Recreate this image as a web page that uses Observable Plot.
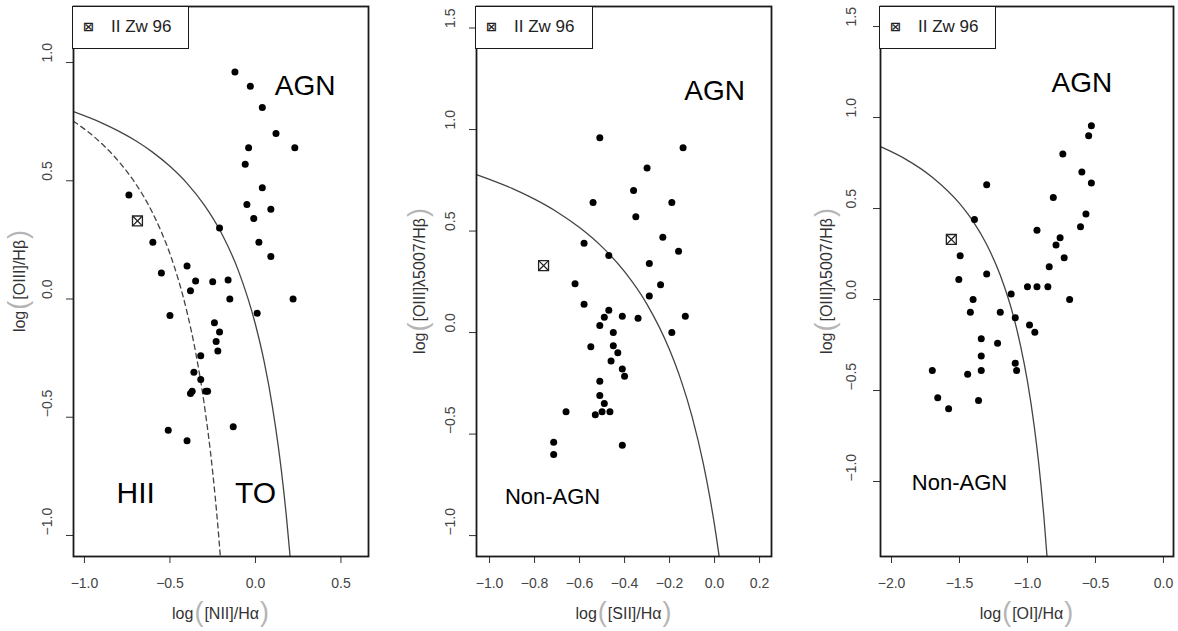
<!DOCTYPE html>
<html><head><meta charset="utf-8">
<script src="https://cdn.jsdelivr.net/npm/d3@7"></script>
<script src="https://cdn.jsdelivr.net/npm/@observablehq/plot@0.6"></script>
<style>
body{margin:0;background:#fff;}
#wrap{position:relative;width:1178px;height:631px;overflow:hidden;}
.panel{position:absolute;top:0;}
.legend{position:absolute;top:6px;height:43px;border:1.6px solid #1a1a1a;box-sizing:border-box;background:#fff;font-family:"Liberation Sans",Arial,sans-serif;font-size:17px;color:#222;}
.legend .sym{position:absolute;left:10px;top:10px;font-family:"DejaVu Sans",sans-serif;font-size:13px;line-height:20px;font-weight:bold;}
.legend .lab{position:absolute;left:38px;top:10px;line-height:20px;}
</style>
</head><body>
<div id="wrap"></div>
<script>
// ---------- data: panel 1, [NII]/Ha ----------
const nii_x = [-0.12,-0.03,0.04,0.12,-0.04,0.23,-0.06,0.04,-0.74,-0.05,0.09,-0.01,-0.21,-0.60,0.02,0.09,-0.40,-0.55,-0.35,-0.25,-0.16,-0.38,-0.15,0.22,-0.50,0.01,-0.24,-0.21,-0.23,-0.22,-0.32,-0.36,-0.32,-0.38,-0.37,-0.29,-0.28,-0.51,-0.13,-0.40];
const nii_y = [0.96,0.90,0.81,0.70,0.64,0.64,0.57,0.47,0.44,0.40,0.38,0.34,0.30,0.24,0.24,0.18,0.14,0.11,0.076,0.073,0.08,0.035,0.0,0.0,-0.07,-0.06,-0.10,-0.14,-0.18,-0.22,-0.24,-0.31,-0.34,-0.40,-0.39,-0.39,-0.39,-0.555,-0.54,-0.60];
// ---------- data: panel 2, [SII]/Ha ----------
const sii_x = [-0.51,-0.14,-0.30,-0.36,-0.54,-0.19,-0.35,-0.23,-0.58,-0.16,-0.47,-0.29,-0.62,-0.24,-0.29,-0.58,-0.47,-0.49,-0.41,-0.34,-0.13,-0.51,-0.45,-0.19,-0.55,-0.45,-0.43,-0.46,-0.41,-0.40,-0.51,-0.51,-0.49,-0.66,-0.53,-0.50,-0.465,-0.715,-0.715,-0.41];
const sii_y = [0.96,0.91,0.81,0.70,0.64,0.64,0.57,0.47,0.44,0.40,0.38,0.34,0.24,0.235,0.18,0.14,0.11,0.075,0.08,0.07,0.08,0.035,0.0,0.0,-0.07,-0.065,-0.10,-0.14,-0.18,-0.215,-0.24,-0.31,-0.35,-0.39,-0.405,-0.39,-0.39,-0.54,-0.60,-0.555];
// ---------- data: panel 3, [OI]/Ha ----------
const oi_x = [-0.53,-0.55,-0.74,-0.60,-0.53,-1.30,-0.81,-0.57,-1.39,-0.61,-0.93,-0.76,-0.79,-1.495,-0.73,-0.84,-1.30,-1.505,-1.0,-0.93,-0.85,-1.12,-1.40,-0.69,-1.42,-1.20,-1.09,-0.985,-0.946,-1.34,-1.22,-1.34,-1.09,-1.08,-1.70,-1.44,-1.34,-1.66,-1.36,-1.58];
const oi_y = [0.955,0.90,0.80,0.70,0.64,0.63,0.56,0.47,0.44,0.40,0.38,0.34,0.30,0.24,0.23,0.18,0.14,0.11,0.07,0.07,0.07,0.03,0.0,0.0,-0.07,-0.07,-0.10,-0.14,-0.18,-0.216,-0.24,-0.31,-0.35,-0.39,-0.39,-0.41,-0.39,-0.54,-0.555,-0.60];
// ---------- II Zw 96 (one per panel) ----------
const izw_x = [-0.69, -0.76, -1.56];
const izw_y = [0.33, 0.33, 0.33];
// ---------- demarcation curves ----------
const kew_nii_x = [-1.064,-0.9,-0.8,-0.7,-0.6,-0.5,-0.4,-0.3,-0.2,-0.1,0.0,0.05,0.1,0.15,0.18,0.2,0.202];
const kew_nii_y = [0.792,0.745,0.710,0.669,0.620,0.561,0.489,0.398,0.280,0.120,-0.108,-0.262,-0.459,-0.716,-0.913,-1.069,-1.086];
const kau_nii_x = [-1.064,-0.9,-0.8,-0.7,-0.6,-0.5,-0.45,-0.4,-0.35,-0.3,-0.25,-0.22,-0.205];
const kau_nii_y = [0.752,0.658,0.582,0.487,0.362,0.191,0.080,-0.056,-0.225,-0.443,-0.733,-0.959,-1.092];
const kew_sii_x = [-1.058,-0.9,-0.8,-0.7,-0.6,-0.5,-0.4,-0.3,-0.2,-0.15,-0.1,-0.05,-0.02,0.0,0.018,0.02];
const kew_sii_y = [0.778,0.710,0.657,0.594,0.517,0.422,0.300,0.139,-0.085,-0.232,-0.414,-0.646,-0.818,-0.950,-1.084,-1.100];
const kew_oi_x = [-2.081,-1.9,-1.7,-1.5,-1.4,-1.3,-1.2,-1.1,-1.05,-1.0,-0.95,-0.92,-0.9,-0.88,-0.856];
const kew_oi_y = [0.840,0.773,0.672,0.528,0.429,0.302,0.133,-0.101,-0.257,-0.450,-0.698,-0.882,-1.025,-1.187,-1.414];
// ---------- ticks ----------
const nii_xticks = [-1.0,-0.5,0.0,0.5];
const nii_yticks = [-1.0,-0.5,0.0,0.5,1.0];
const sii_xticks = [-1.0,-0.8,-0.6,-0.4,-0.2,0.0,0.2];
const sii_yticks = [-1.0,-0.5,0.0,0.5,1.0,1.5];
const oi_xticks = [-2.0,-1.5,-1.0,-0.5,0.0];
const oi_yticks = [-1.0,-0.5,0.0,0.5,1.0,1.5];
// ---------- region labels ----------
const nii_regions = [{text:"AGN",x:0.29,y:0.90},{text:"HII",x:-0.70,y:-0.82},{text:"TO",x:0.0,y:-0.82}];
const sii_regions = [{text:"AGN",x:0.0,y:1.19},{text:"Non-AGN",x:-0.72,y:-0.81}];
const oi_regions = [{text:"AGN",x:-0.60,y:1.19},{text:"Non-AGN",x:-1.50,y:-1.01}];

const FONT = '"Liberation Sans", Arial, Helvetica, sans-serif';
const fmt = d3.format(".1f");
const zip = (xs, ys) => xs.map((x, i) => ({x, y: ys[i]}));
const labelSize = d => d.text === "AGN" ? 28 : d.text === "Non-AGN" ? 22 : 30;

function makePanel(o) {
  const pts = zip(o.px, o.py);
  const izw = [{x: izw_x[o.k], y: izw_y[o.k]}];
  const plot = Plot.plot({
    width: o.width, height: 631,
    marginLeft: o.ml, marginRight: o.mr, marginTop: 6, marginBottom: 75,
    style: {fontFamily: FONT, fontSize: "14px", color: "#333", background: "transparent", overflow: "visible"},
    x: {domain: o.xdom, label: null},
    y: {domain: o.ydom, label: null},
    marks: [
      Plot.axisX({ticks: o.xticks, tickSize: 7, tickPadding: 15, tickFormat: fmt, fontSize: 14, fill: "#444", stroke: "#333", label: null}),
      Plot.axisY({ticks: o.yticks, tickSize: 7, tickFormat: () => "", stroke: "#333", label: null}),
      Plot.text(o.yticks, {y: d => d, text: d => fmt(d), frameAnchor: "left", dx: -o.ydx, rotate: -90, fontSize: 14, fill: "#444"}),
      ...o.curves.map(c => Plot.line(zip(c.x, c.y), {x: "x", y: "y", stroke: "#444", strokeWidth: 1.3, strokeDasharray: c.dash ? "5,4" : null, curve: "monotone-x", clip: true})),
      Plot.dot(pts, {x: "x", y: "y", r: 3.5, fill: "#000"}),
      Plot.dot(izw, {x: "x", y: "y", symbol: "square", r: 5.6, stroke: "#222", strokeWidth: 1.3, fill: "#fff"}),
      Plot.dot(izw, {x: "x", y: "y", symbol: "times", r: 4.1, stroke: "#222", strokeWidth: 1.3}),
      Plot.text(o.regions, {x: "x", y: "y", text: "text", fontSize: labelSize, fill: "#000"}),
      Plot.frame({stroke: "#1a1a1a", strokeWidth: 1.8})
    ]
  });
  const svg = d3.select(plot);
  const cx = o.ml + (o.width - o.ml - o.mr) / 2;
  const addTitle = (sel, parts) => {
    sel.append("tspan").attr("font-size", 16).attr("fill", "#333").text("log");
    sel.append("tspan").attr("font-size", 27).attr("fill", "#b5b5b5").attr("dy", 2).attr("dx", 1).text("(");
    sel.append("tspan").attr("font-size", 16).attr("fill", "#333").attr("dy", -2).attr("dx", 1).text(parts);
    sel.append("tspan").attr("font-size", 27).attr("fill", "#b5b5b5").attr("dy", 2).attr("dx", 1).text(")");
  };
  const xt = svg.append("text").attr("x", cx).attr("y", 619).attr("text-anchor", "middle").attr("font-family", FONT);
  addTitle(xt, o.xtitle);
  const yt = svg.append("text").attr("text-anchor", "middle").attr("font-family", FONT)
    .attr("transform", `translate(${o.ml - o.ytdx},281) rotate(-90)`);
  addTitle(yt, o.ytitle);
  const div = document.createElement("div");
  div.className = "panel";
  div.style.left = o.left + "px";
  div.appendChild(plot);
  const wrap = document.getElementById("wrap");
  wrap.appendChild(div);
  const leg = document.createElement("div");
  leg.className = "legend";
  leg.style.left = (o.left + o.ml - 1) + "px";
  leg.style.width = o.legW + "px";
  leg.innerHTML = '<span class="sym">⊠</span><span class="lab">II Zw 96</span>';
  wrap.appendChild(leg);
}

makePanel({k: 0, left: 0, width: 400, ml: 73, mr: 32, xdom: [-1.064, 0.661], ydom: [-1.089, 1.237],
  xticks: nii_xticks, yticks: nii_yticks, ydx: 26, ytdx: 48, px: nii_x, py: nii_y,
  curves: [{x: kew_nii_x, y: kew_nii_y}, {x: kau_nii_x, y: kau_nii_y, dash: true}],
  regions: nii_regions, xtitle: "[NII]/Hα", ytitle: "[OIII]/Hβ", legW: 117});
makePanel({k: 1, left: 400, width: 400, ml: 76, mr: 29, xdom: [-1.058, 0.253], ydom: [-1.103, 1.606],
  xticks: sii_xticks, yticks: sii_yticks, ydx: 26, ytdx: 51, px: sii_x, py: sii_y,
  curves: [{x: kew_sii_x, y: kew_sii_y}],
  regions: sii_regions, xtitle: "[SII]/Hα", ytitle: "[OIII]λ5007/Hβ", legW: 118});
makePanel({k: 2, left: 800, width: 378, ml: 80, mr: 5, xdom: [-2.081, 0.074], ydom: [-1.412, 1.61],
  xticks: oi_xticks, yticks: oi_yticks, ydx: 29, ytdx: 48, px: oi_x, py: oi_y,
  curves: [{x: kew_oi_x, y: kew_oi_y}],
  regions: oi_regions, xtitle: "[OI]/Hα", ytitle: "[OIII]λ5007/Hβ", legW: 117});
</script>
</body></html>
